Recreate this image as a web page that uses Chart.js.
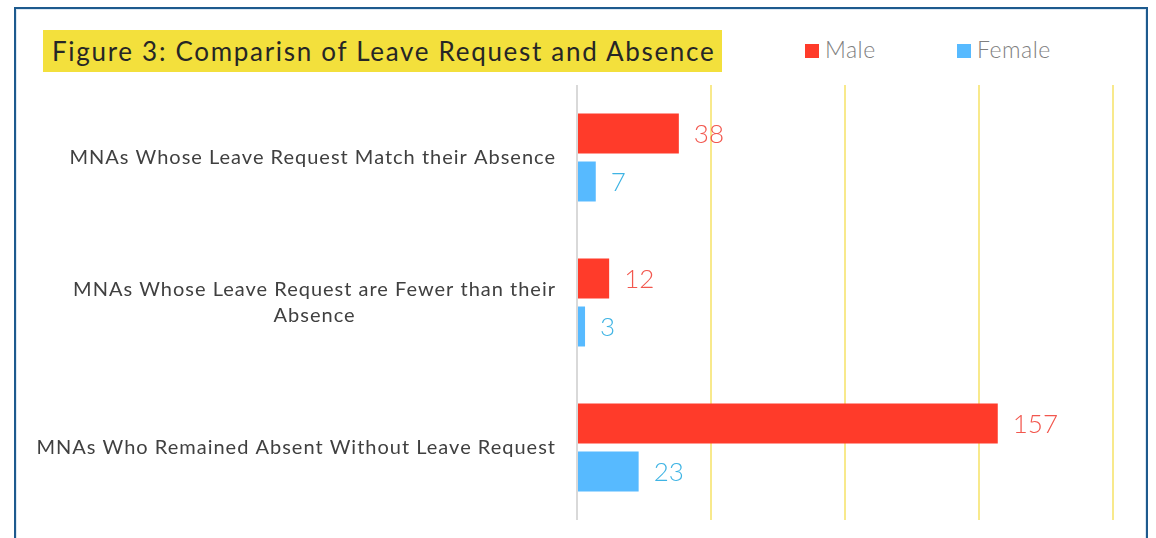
<!DOCTYPE html>
<html>
<head>
<meta charset="utf-8">
<script src="https://cdn.jsdelivr.net/npm/chart.js@4.4.1/dist/chart.umd.min.js"></script>
<style>
  body { margin: 0; background: #fff; font-family: Lato, sans-serif; }
  #frame {
    position: absolute; left: 14px; top: 7px; width: 1130px; height: 540px;
    border: 2px solid #1d5a8e; box-shadow: inset 0 0 0 1px #dce8f3;
  }
  #title {
    position: absolute; left: 43px; top: 30px; width: 679px; height: 42px;
    background: #f3e03c; color: #262626; font-size: 26px; line-height: 42px;
    padding-left: 9px; box-sizing: border-box; letter-spacing: 1.7px; white-space: nowrap;
  }
  #legend { position: absolute; top: 35px; left: 805px; font-size: 23px; font-weight: 300; color: #7f7f7f; }
  #legend span.item { position: absolute; top: 0; white-space: nowrap; line-height: 28px; letter-spacing: 0.5px; }
  #legend i { display: inline-block; width: 14px; height: 14px; margin-right: 6px; vertical-align: 0px; }
  canvas { position: absolute; left: 0; top: 0; }
</style>
</head>
<body>
<div id="frame"></div>
<div id="title">Figure 3: Comparisn of Leave Request and Absence</div>
<div id="legend"></div>
<canvas id="leave_absence_chart" width="1156" height="538"></canvas>
<script>
// categories and values
const categories = [
    ['MNAs Whose Leave Request Match their Absence'],
    ['MNAs Whose Leave Request are Fewer than their', 'Absence'],
    ['MNAs Who Remained Absent Without Leave Request']
];
const seriesNames = ['Male', 'Female'];
const maleValues = [38, 12, 157];
const femaleValues = [7, 3, 23];
const xTicks = [0, 50, 100, 150, 200];

const barColors = ['#ff3b2a', '#57baff'];
const labelColors = ['#f2574e', '#3fb4e4'];

// legend in html
var legendBox = document.getElementById('legend');
seriesNames.forEach(function (name, i) {
    var item = document.createElement('span');
    item.className = 'item';
    item.style.left = (i * 152) + 'px';
    item.innerHTML = '<i style="background:' + barColors[i] + '"></i>' + name;
    legendBox.appendChild(item);
});

// draws value labels next to bars and the category labels on the left
const labelPlugin = {
    id: 'labelPlugin',
    afterDatasetsDraw: function (chart) {
        var ctx = chart.ctx;
        ctx.save();
        ctx.textBaseline = 'middle';
        ctx.font = '300 26px Lato';
        chart.data.datasets.forEach(function (ds, di) {
            chart.getDatasetMeta(di).data.forEach(function (bar, i) {
                ctx.fillStyle = labelColors[di];
                ctx.textAlign = 'left';
                ctx.fillText(ds.data[i], bar.x + 15, bar.y + 1);
            });
        });

        var yScale = chart.scales.y;
        ctx.font = '20px Lato';
        ctx.letterSpacing = '1px';
        ctx.fillStyle = '#404040';
        var right = 556, lineH = 26;
        categories.forEach(function (lines, i) {
            var cy = yScale.getPixelForValue(i);
            var widest = Math.max.apply(null, lines.map(function (l) { return ctx.measureText(l).width; }));
            var centerX = right - widest / 2;
            ctx.textAlign = 'center';
            lines.forEach(function (line, k) {
                var y = cy + (k - (lines.length - 1) / 2) * lineH;
                ctx.fillText(line, centerX, y);
            });
        });
        ctx.restore();
    }
};

const barData = {
    labels: categories,
    datasets: [{
        label: seriesNames[0],
        data: maleValues,
        backgroundColor: barColors[0],
        categoryPercentage: 0.662,
        barPercentage: 0.833
    }, {
        label: seriesNames[1],
        data: femaleValues,
        backgroundColor: barColors[1],
        categoryPercentage: 0.662,
        barPercentage: 0.833
    }]
};

const barConfig = {
    type: 'bar',
    data: barData,
    options: {
        indexAxis: 'y',
        responsive: false,
        animation: false,
        devicePixelRatio: 1,
        layout: {
            padding: { left: 577, right: 43, top: 85, bottom: 18 }
        },
        plugins: {
            legend: { display: false },
            tooltip: { enabled: false }
        },
        scales: {
            x: {
                min: xTicks[0],
                max: xTicks[xTicks.length - 1],
                afterBuildTicks: function (scale) {
                    scale.ticks = xTicks.map(function (v) { return { value: v }; });
                },
                ticks: { display: false },
                border: { display: false },
                grid: {
                    drawTicks: false,
                    lineWidth: 2,
                    color: function (c) {
                        return c.tick && c.tick.value === 0 ? '#d9d9d9' : '#f8e98c';
                    }
                }
            },
            y: {
                ticks: { display: false },
                grid: { display: false, drawTicks: false },
                border: { display: false }
            }
        }
    },
    plugins: [labelPlugin]
};

const leave_absence_chart = new Chart(
    document.getElementById('leave_absence_chart'),
    barConfig
);
</script>
</body>
</html>
